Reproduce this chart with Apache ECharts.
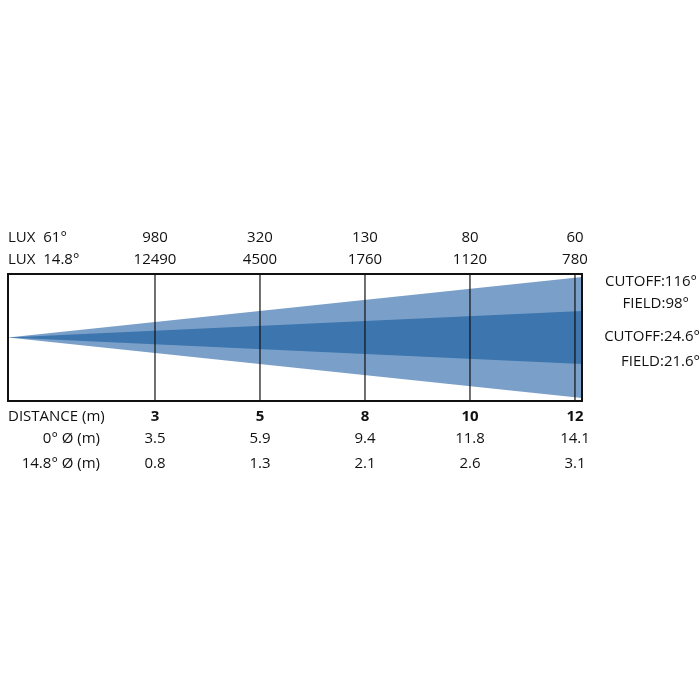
<!DOCTYPE html>
<html><head><meta charset="utf-8">
<script src="https://cdn.jsdelivr.net/npm/echarts@6/dist/echarts.min.js"></script>
<style>html,body{margin:0;padding:0;background:#fff}#c{width:700px;height:700px}</style>
</head><body><div id="c"></div>
<script>
const distances = ['3','5','8','10','12'];
const lux61 = ['980','320','130','80','60'];
const lux148 = ['12490','4500','1760','1120','780'];
const dia0 = ['3.5','5.9','9.4','11.8','14.1'];
const dia148 = ['0.8','1.3','2.1','2.6','3.1'];
const beamLabels = ['CUTOFF:116°','FIELD:98°','CUTOFF:24.6°','FIELD:21.6°'];
// beam geometry in axis units: apex x, end x, half-width at end
const apexX = -1.4, endX = 4.067;
const outerHalf = 1.0, innerHalf = 0.44;

const chart = echarts.init(document.getElementById('c'));
function poly(half, color){
  return {type:'custom', silent:true, data:[[0]], z:1,
    renderItem:(p,api)=>{
      const a=api.coord([apexX,0]), b=api.coord([endX,half]), c=api.coord([endX,-half]);
      return {type:'polygon', shape:{points:[a,b,c]}, style:{fill:color}};
    }};
}
chart.setOption({
  animation:false,
  grid:{left:8,right:118,top:274,bottom:299},
  xAxis:{type:'value',min:apexX,max:endX,show:false},
  yAxis:{type:'value',min:-1.05,max:1.05,show:false},
  series:[
    poly(outerHalf,'#7aa0c9'),
    poly(innerHalf,'#3d75ae'),
    {type:'custom',silent:true,data:distances.map((d,i)=>[i]),z:3,
      renderItem:(p,api)=>{const t=api.coord([api.value(0),1.05]),b=api.coord([api.value(0),-1.05]);
        return {type:'line',shape:{x1:t[0],y1:t[1],x2:b[0],y2:b[1]},style:{stroke:'#111',lineWidth:1.2}};}},
    {type:'custom',silent:true,data:[[0]],z:4,
      renderItem:(p,api)=>{const a=api.coord([apexX,1.05]),b=api.coord([endX,-1.05]);
        return {type:'rect',shape:{x:a[0],y:a[1],width:b[0]-a[0],height:b[1]-a[1]},style:{fill:null,stroke:'#111',lineWidth:2}};}}
  ]
});
const F='"Open Sans", sans-serif';
const g=[];
function txt(x,y,s,align,bold){g.push({type:'text',x,y,style:{text:s,font:(bold?'bold ':'')+'15px '+F,fill:'#111',textAlign:align||'center',textVerticalAlign:'middle'}});}
txt(8,238,'LUX  61°','left'); txt(8,260,'LUX  14.8°','left');
txt(8,417,'DISTANCE (m)','left'); txt(100,439,'0° Ø (m)','right'); txt(100,464,'14.8° Ø (m)','right');
distances.forEach((d,i)=>{
  const x=chart.convertToPixel({gridIndex:0},[i,0])[0];
  txt(x,238,lux61[i]); txt(x,260,lux148[i]);
  txt(x,417,d,'center',true); txt(x,439,dia0[i]); txt(x,464,dia148[i]);
});
txt(697,282,beamLabels[0],'right'); txt(689,304,beamLabels[1],'right');
txt(700,337,beamLabels[2],'right'); txt(700,362,beamLabels[3],'right');
chart.setOption({graphic:g});
</script></body></html>
